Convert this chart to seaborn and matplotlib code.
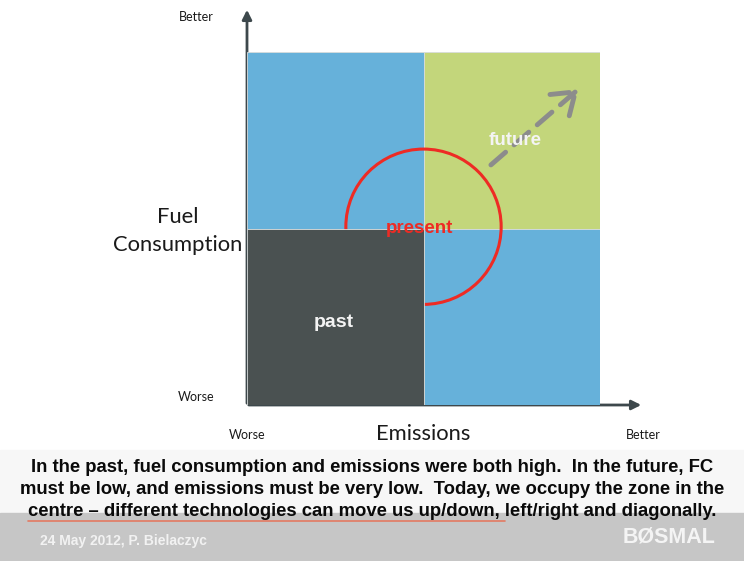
import numpy as np
import pandas as pd
import seaborn as sns
import matplotlib.pyplot as plt
from matplotlib.patches import Circle, Rectangle

##### data: the four zones of the emissions / fuel consumption map #####
zone_names = ['', 'future', 'past', '']
zone_emis = [0, 1, 0, 1]      # left edge of each zone (emissions, worse -> better)
zone_fuel = [1, 1, 0, 0]      # bottom edge of each zone (fuel consumption, worse -> better)
zone_colors = ['#66b1da', '#c3d67b', '#4a5151', '#66b1da']

present_centre = (1.0, 1.01)
present_radius = 0.44
trend_start = (1.37, 1.35)
trend_end = (1.89, 1.80)

axis_ends = ['Worse', 'Better']
caption = ["In the past, fuel consumption and emissions were both high.  In the future, FC",
           "must be low, and emissions must be very low.  Today, we occupy the zone in the",
           "centre \u2013 different technologies can move us up/down, left/right and diagonally."]
footer = '24 May 2012, P. Bielaczyc'

zones = pd.DataFrame({'name': zone_names, 'x': zone_emis, 'y': zone_fuel, 'color': zone_colors})

sns.set_theme(style='white')
plt.rcParams['font.family'] = ['Liberation Sans', 'DejaVu Sans']

W, H = 744, 561
fig = plt.figure(figsize=(W / 100, H / 100), dpi=100)

# background overlay in pixel coords
bg = fig.add_axes([0, 0, 1, 1])
bg.set_xlim(0, W)
bg.set_ylim(H, 0)
bg.axis('off')
bg.add_patch(Rectangle((0, 450), W, 64, color='#f7f7f7', zorder=0))
bg.add_patch(Rectangle((0, 513), W, 48, color='#c6c6c6', zorder=0))

# quadrant axes
ax = fig.add_axes([247 / W, (H - 405) / H, 353 / W, 353 / H])
ax.set_xlim(0, 2)
ax.set_ylim(0, 2)
ax.axis('off')

for _, z in zones.iterrows():
    zo = 3 if z['name'] == 'past' else 1
    ax.bar(z['x'], 1, bottom=z['y'], width=1, align='edge', color=z['color'],
           edgecolor='#d8dcdc', linewidth=0.6, zorder=zo)

ax.add_patch(Circle(present_centre, present_radius, fill=False, edgecolor='#ee2b24',
                    linewidth=2.2, zorder=2))

ax.annotate('', xy=trend_end, xytext=trend_start,
            arrowprops=dict(arrowstyle='->,head_length=0.5,head_width=0.35', color='#8c8c8c',
                            lw=3.5, linestyle=(0, (4, 2.3)), mutation_scale=30), zorder=4)

label_pos = {'future': (1.52, 1.50, 13.5), 'past': (0.49, 0.465, 14)}
for _, z in zones.iterrows():
    if z['name']:
        px, py, fs = label_pos[z['name']]
        ax.text(px, py, z['name'], color='#f4f4f4', fontsize=fs, fontweight='bold',
                ha='center', va='center', zorder=5)
ax.text(present_centre[0] - 0.02, 1.0, 'present', color='#ee2b24', fontsize=13.5,
        fontweight='bold', ha='center', va='center', zorder=5)

# axis arrows
akw = dict(arrowstyle='-|>', color='#3d484c', lw=2, mutation_scale=14)
bg.annotate('', xy=(247, 7), xytext=(247, 406), arrowprops=akw)
bg.annotate('', xy=(644, 405), xytext=(246, 405), arrowprops=akw)

lab = dict(family=['Lato', 'DejaVu Sans'], color='#1a1a1a')
bg.text(196, 17, axis_ends[1], fontsize=9, ha='center', va='center', **lab)
bg.text(196, 397, axis_ends[0], fontsize=9, ha='center', va='center', **lab)
bg.text(247, 435, axis_ends[0], fontsize=9, ha='center', va='center', **lab)
bg.text(643, 435, axis_ends[1], fontsize=9, ha='center', va='center', **lab)
bg.text(178, 231, 'Fuel\nConsumption', fontsize=15.8, ha='center', va='center',
        linespacing=1.45, **lab)
bg.text(423, 434, 'Emissions', fontsize=15.8, ha='center', va='center', **lab)

for i, line in enumerate(caption):
    bg.text(372, 467 + 22 * i, line, fontsize=13.3, fontweight='bold', color='#0a0a0a',
            ha='center', va='center')
bg.plot([28, 505], [521, 521], color='#e47a62', lw=1.2)

bg.text(40, 541, footer, fontsize=10, fontweight='bold', color='#f2f2f2', ha='left', va='center')
bg.text(669, 537, 'B\u00d8SMAL', fontsize=15.5, fontweight='bold', color='#f4f4f4',
        ha='center', va='center')

fig.savefig('out.png', dpi=100)
